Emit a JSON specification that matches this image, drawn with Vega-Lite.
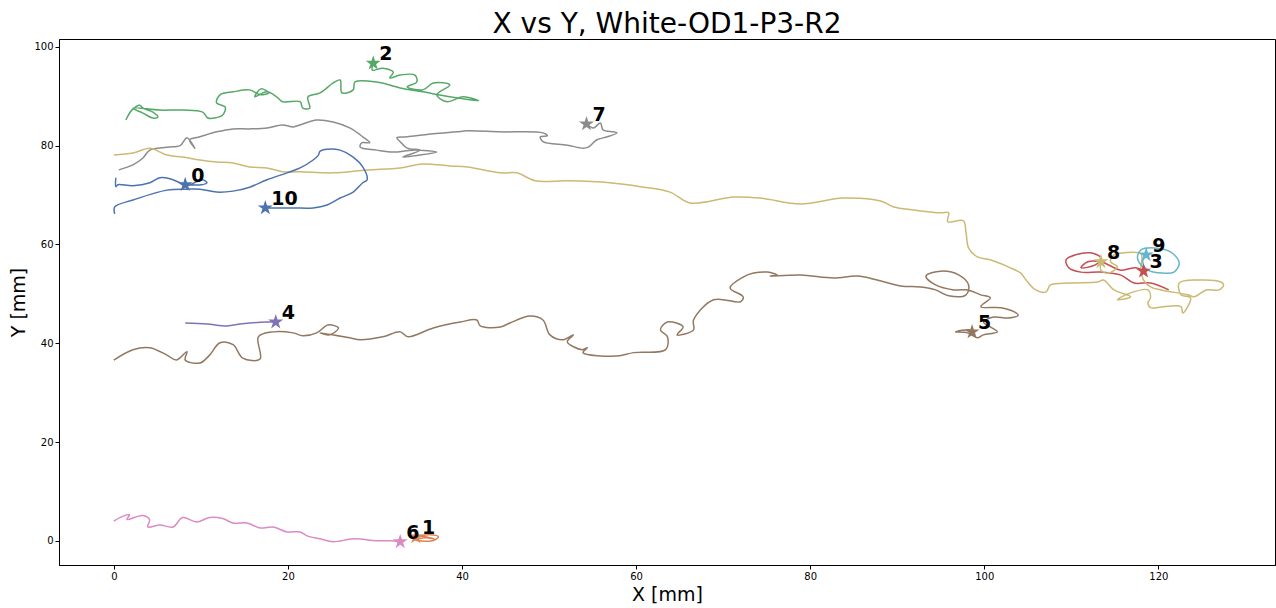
{
  "$schema": "https://vega.github.io/schema/vega-lite/v6.json",
  "autosize": {"type": "none"},
  "padding": {"left": 59, "top": 39, "right": 1, "bottom": 43},
  "width": 1216,
  "height": 526,
  "title": {"text": "X vs Y, White-OD1-P3-R2", "fontSize": 28, "font": "DejaVu Sans", "fontWeight": "normal", "color": "black", "anchor": "middle", "offset": 0},
  "config": {
    "view": {"stroke": "black", "strokeWidth": 1},
    "axis": {"grid": false, "domainColor": "black", "tickColor": "black", "labelColor": "black", "labelFont": "DejaVu Sans", "labelFontSize": 10, "titleFont": "DejaVu Sans", "titleFontSize": 19, "titleFontWeight": "normal", "titleColor": "black", "tickSize": 4}
  },
  "datasets": {
    "tracks": [
      {"id": "0", "x": 0.23, "y": 73.5}, {"id": "0", "x": 0.23, "y": 71.7}, {"id": "0", "x": 0.46, "y": 72.1}, {"id": "0", "x": 2.19, "y": 71.9}, {"id": "0", "x": 4.14, "y": 72.5}, {"id": "0", "x": 5.29, "y": 73.5}, {"id": "0", "x": 6.44, "y": 73.3}, {"id": "0", "x": 7.59, "y": 72.5}, {"id": "0", "x": 8.4, "y": 71.9}, {"id": "0", "x": 9.5, "y": 72.7}, {"id": "0", "x": 10.2, "y": 73.1}, {"id": "0", "x": 10.7, "y": 72.5}, {"id": "0", "x": 10.1, "y": 72.1}, {"id": "0", "x": 8.2, "y": 72.1},
      {"id": "1", "x": 34.4, "y": 0.4}, {"id": "1", "x": 35.2, "y": 1.0}, {"id": "1", "x": 36.3, "y": 1.2}, {"id": "1", "x": 37.3, "y": 0.8}, {"id": "1", "x": 36.6, "y": 0.0}, {"id": "1", "x": 35.2, "y": 0.0}, {"id": "1", "x": 34.5, "y": 0.2}, {"id": "1", "x": 35.8, "y": 0.6}, {"id": "1", "x": 36.8, "y": 0.4}, {"id": "1", "x": 35.5, "y": 0.9}, {"id": "1", "x": 34.7, "y": 0.8},
      {"id": "2", "x": 1.38, "y": 85.2}, {"id": "2", "x": 2.07, "y": 87.2}, {"id": "2", "x": 2.99, "y": 88.2}, {"id": "2", "x": 3.34, "y": 87.6}, {"id": "2", "x": 4.49, "y": 86.8}, {"id": "2", "x": 5.06, "y": 85.8}, {"id": "2", "x": 4.49, "y": 85.6}, {"id": "2", "x": 3.34, "y": 86.6}, {"id": "2", "x": 2.19, "y": 87.6}, {"id": "2", "x": 5.29, "y": 87.2}, {"id": "2", "x": 7.94, "y": 87.2}, {"id": "2", "x": 10.2, "y": 86.8}, {"id": "2", "x": 10.8, "y": 85.6}, {"id": "2", "x": 11.6, "y": 85.6}, {"id": "2", "x": 12.5, "y": 86.2}, {"id": "2", "x": 12.8, "y": 87.8}, {"id": "2", "x": 11.8, "y": 88.7}, {"id": "2", "x": 12.2, "y": 90.3}, {"id": "2", "x": 13.7, "y": 90.9}, {"id": "2", "x": 15.6, "y": 91.3}, {"id": "2", "x": 16.8, "y": 90.3}, {"id": "2", "x": 17.8, "y": 90.7}, {"id": "2", "x": 16.9, "y": 91.5}, {"id": "2", "x": 16.2, "y": 89.9}, {"id": "2", "x": 17.6, "y": 90.9}, {"id": "2", "x": 18.7, "y": 89.9}, {"id": "2", "x": 19.4, "y": 88.9}, {"id": "2", "x": 21.4, "y": 88.9}, {"id": "2", "x": 21.7, "y": 87.6}, {"id": "2", "x": 22.5, "y": 87.6}, {"id": "2", "x": 22.3, "y": 89.9}, {"id": "2", "x": 23.7, "y": 90.7}, {"id": "2", "x": 25.2, "y": 92.7}, {"id": "2", "x": 26.0, "y": 93.3}, {"id": "2", "x": 26.2, "y": 90.7}, {"id": "2", "x": 27.5, "y": 91.3}, {"id": "2", "x": 27.7, "y": 92.9}, {"id": "2", "x": 30.2, "y": 92.9}, {"id": "2", "x": 32.9, "y": 91.7}, {"id": "2", "x": 35.5, "y": 90.9}, {"id": "2", "x": 38.6, "y": 89.9}, {"id": "2", "x": 41.9, "y": 89.1}, {"id": "2", "x": 40.1, "y": 89.9}, {"id": "2", "x": 38.3, "y": 88.9}, {"id": "2", "x": 37.1, "y": 90.3}, {"id": "2", "x": 38.6, "y": 92.3}, {"id": "2", "x": 36.7, "y": 92.7}, {"id": "2", "x": 35.5, "y": 91.3}, {"id": "2", "x": 33.7, "y": 91.9}, {"id": "2", "x": 34.8, "y": 92.9}, {"id": "2", "x": 34.6, "y": 94.3}, {"id": "2", "x": 32.9, "y": 94.3}, {"id": "2", "x": 31.7, "y": 93.7}, {"id": "2", "x": 32.1, "y": 94.9}, {"id": "2", "x": 30.9, "y": 95.7}, {"id": "2", "x": 29.7, "y": 95.3}, {"id": "2", "x": 29.8, "y": 96.7},
      {"id": "3", "x": 121.2, "y": 50.8}, {"id": "3", "x": 119.1, "y": 52.2}, {"id": "3", "x": 117.2, "y": 52.2}, {"id": "3", "x": 115.7, "y": 53.8}, {"id": "3", "x": 113.4, "y": 54.4}, {"id": "3", "x": 111.1, "y": 54.4}, {"id": "3", "x": 109.7, "y": 55.3}, {"id": "3", "x": 109.4, "y": 56.9}, {"id": "3", "x": 110.5, "y": 57.9}, {"id": "3", "x": 112.2, "y": 58.3}, {"id": "3", "x": 113.4, "y": 57.3}, {"id": "3", "x": 112.8, "y": 55.9}, {"id": "3", "x": 111.1, "y": 55.3}, {"id": "3", "x": 111.9, "y": 56.5}, {"id": "3", "x": 113.4, "y": 56.5}, {"id": "3", "x": 115.7, "y": 54.8}, {"id": "3", "x": 117.4, "y": 55.3}, {"id": "3", "x": 118.3, "y": 54.6},
      {"id": "4", "x": 8.2, "y": 44.1}, {"id": "4", "x": 10.7, "y": 43.9}, {"id": "4", "x": 13.0, "y": 43.5}, {"id": "4", "x": 14.5, "y": 43.9}, {"id": "4", "x": 15.6, "y": 44.1}, {"id": "4", "x": 17.6, "y": 44.3}, {"id": "4", "x": 18.6, "y": 44.3},
      {"id": "5", "x": 0.0, "y": 36.6}, {"id": "5", "x": 2.19, "y": 38.7}, {"id": "5", "x": 4.14, "y": 39.1}, {"id": "5", "x": 6.1, "y": 37.6}, {"id": "5", "x": 7.2, "y": 36.6}, {"id": "5", "x": 8.4, "y": 38.3}, {"id": "5", "x": 8.2, "y": 36.6}, {"id": "5", "x": 9.9, "y": 36.0}, {"id": "5", "x": 11.0, "y": 37.6}, {"id": "5", "x": 12.2, "y": 40.1}, {"id": "5", "x": 13.7, "y": 39.7}, {"id": "5", "x": 14.8, "y": 37.0}, {"id": "5", "x": 16.8, "y": 36.8}, {"id": "5", "x": 16.6, "y": 41.3}, {"id": "5", "x": 18.3, "y": 42.3}, {"id": "5", "x": 20.6, "y": 42.1}, {"id": "5", "x": 21.7, "y": 41.5}, {"id": "5", "x": 23.3, "y": 42.1}, {"id": "5", "x": 24.6, "y": 43.7}, {"id": "5", "x": 25.8, "y": 43.1}, {"id": "5", "x": 24.8, "y": 41.7}, {"id": "5", "x": 23.7, "y": 42.1}, {"id": "5", "x": 27.1, "y": 41.1}, {"id": "5", "x": 28.3, "y": 40.7}, {"id": "5", "x": 30.9, "y": 41.3}, {"id": "5", "x": 32.9, "y": 42.3}, {"id": "5", "x": 33.8, "y": 41.3}, {"id": "5", "x": 36.7, "y": 43.1}, {"id": "5", "x": 39.8, "y": 44.3}, {"id": "5", "x": 41.7, "y": 44.7}, {"id": "5", "x": 42.1, "y": 43.5}, {"id": "5", "x": 44.4, "y": 43.3}, {"id": "5", "x": 45.5, "y": 44.1}, {"id": "5", "x": 47.8, "y": 45.5}, {"id": "5", "x": 49.3, "y": 44.7}, {"id": "5", "x": 50.1, "y": 41.7}, {"id": "5", "x": 51.6, "y": 40.7}, {"id": "5", "x": 52.8, "y": 41.7}, {"id": "5", "x": 52.1, "y": 40.3}, {"id": "5", "x": 53.8, "y": 38.7}, {"id": "5", "x": 54.4, "y": 39.1}, {"id": "5", "x": 53.9, "y": 38.1}, {"id": "5", "x": 57.8, "y": 37.4}, {"id": "5", "x": 59.7, "y": 38.1}, {"id": "5", "x": 63.4, "y": 38.7}, {"id": "5", "x": 63.6, "y": 41.3}, {"id": "5", "x": 62.8, "y": 42.7}, {"id": "5", "x": 63.6, "y": 44.3}, {"id": "5", "x": 65.4, "y": 43.3}, {"id": "5", "x": 64.7, "y": 41.7}, {"id": "5", "x": 66.6, "y": 42.7}, {"id": "5", "x": 66.6, "y": 44.7}, {"id": "5", "x": 68.9, "y": 48.8}, {"id": "5", "x": 72.0, "y": 48.4}, {"id": "5", "x": 72.3, "y": 49.4}, {"id": "5", "x": 70.8, "y": 51.2}, {"id": "5", "x": 72.3, "y": 53.4}, {"id": "5", "x": 73.5, "y": 54.2}, {"id": "5", "x": 75.1, "y": 54.4}, {"id": "5", "x": 76.2, "y": 53.8}, {"id": "5", "x": 75.4, "y": 53.6}, {"id": "5", "x": 78.9, "y": 53.8}, {"id": "5", "x": 82.7, "y": 53.2}, {"id": "5", "x": 85.4, "y": 53.6}, {"id": "5", "x": 87.7, "y": 52.8}, {"id": "5", "x": 90.4, "y": 51.6}, {"id": "5", "x": 92.7, "y": 51.4}, {"id": "5", "x": 94.4, "y": 50.8}, {"id": "5", "x": 95.9, "y": 49.6}, {"id": "5", "x": 97.9, "y": 49.8}, {"id": "5", "x": 98.2, "y": 51.8}, {"id": "5", "x": 97.1, "y": 53.8}, {"id": "5", "x": 95.0, "y": 54.6}, {"id": "5", "x": 93.3, "y": 53.6}, {"id": "5", "x": 94.4, "y": 51.8}, {"id": "5", "x": 96.5, "y": 50.8}, {"id": "5", "x": 98.1, "y": 50.8}, {"id": "5", "x": 99.6, "y": 49.8}, {"id": "5", "x": 100.7, "y": 49.2}, {"id": "5", "x": 99.6, "y": 47.4}, {"id": "5", "x": 101.9, "y": 47.2}, {"id": "5", "x": 103.4, "y": 46.4}, {"id": "5", "x": 103.9, "y": 45.7}, {"id": "5", "x": 102.7, "y": 45.1}, {"id": "5", "x": 101.1, "y": 45.3}, {"id": "5", "x": 99.9, "y": 44.3}, {"id": "5", "x": 100.7, "y": 43.3}, {"id": "5", "x": 101.5, "y": 42.3}, {"id": "5", "x": 99.9, "y": 41.7}, {"id": "5", "x": 99.2, "y": 41.1}, {"id": "5", "x": 98.1, "y": 42.1}, {"id": "5", "x": 96.7, "y": 42.3}, {"id": "5", "x": 98.4, "y": 42.7}, {"id": "5", "x": 98.6, "y": 42.3},
      {"id": "6", "x": 0.0, "y": 4.0}, {"id": "6", "x": 0.7, "y": 4.7}, {"id": "6", "x": 1.8, "y": 5.3}, {"id": "6", "x": 1.5, "y": 4.3}, {"id": "6", "x": 3.3, "y": 5.1}, {"id": "6", "x": 4.1, "y": 4.3}, {"id": "6", "x": 3.9, "y": 2.8}, {"id": "6", "x": 5.3, "y": 3.2}, {"id": "6", "x": 6.8, "y": 2.8}, {"id": "6", "x": 7.9, "y": 4.7}, {"id": "6", "x": 9.5, "y": 3.8}, {"id": "6", "x": 11.0, "y": 4.7}, {"id": "6", "x": 12.5, "y": 4.5}, {"id": "6", "x": 13.7, "y": 3.6}, {"id": "6", "x": 15.3, "y": 3.6}, {"id": "6", "x": 16.8, "y": 2.6}, {"id": "6", "x": 18.3, "y": 2.8}, {"id": "6", "x": 19.9, "y": 1.8}, {"id": "6", "x": 21.4, "y": 1.8}, {"id": "6", "x": 22.2, "y": 1.0}, {"id": "6", "x": 23.7, "y": 0.4}, {"id": "6", "x": 25.2, "y": -0.2}, {"id": "6", "x": 27.5, "y": 0.4}, {"id": "6", "x": 30.2, "y": 0.0}, {"id": "6", "x": 31.7, "y": 0.0}, {"id": "6", "x": 32.9, "y": -0.2},
      {"id": "7", "x": 0.58, "y": 75.1}, {"id": "7", "x": 2.19, "y": 76.1}, {"id": "7", "x": 3.34, "y": 77.5}, {"id": "7", "x": 4.14, "y": 79.1}, {"id": "7", "x": 6.1, "y": 79.7}, {"id": "7", "x": 7.6, "y": 80.0}, {"id": "7", "x": 8.4, "y": 81.6}, {"id": "7", "x": 9.3, "y": 79.5}, {"id": "7", "x": 8.7, "y": 81.2}, {"id": "7", "x": 9.9, "y": 81.8}, {"id": "7", "x": 11.8, "y": 82.8}, {"id": "7", "x": 13.7, "y": 83.4}, {"id": "7", "x": 15.6, "y": 83.4}, {"id": "7", "x": 17.6, "y": 83.6}, {"id": "7", "x": 19.4, "y": 84.2}, {"id": "7", "x": 20.6, "y": 83.8}, {"id": "7", "x": 21.4, "y": 84.2}, {"id": "7", "x": 23.3, "y": 85.2}, {"id": "7", "x": 25.2, "y": 84.8}, {"id": "7", "x": 27.1, "y": 83.6}, {"id": "7", "x": 28.6, "y": 81.8}, {"id": "7", "x": 29.4, "y": 80.6}, {"id": "7", "x": 28.5, "y": 80.6}, {"id": "7", "x": 28.3, "y": 79.7}, {"id": "7", "x": 30.2, "y": 79.1}, {"id": "7", "x": 32.1, "y": 78.7}, {"id": "7", "x": 34.4, "y": 79.1}, {"id": "7", "x": 37.1, "y": 78.7}, {"id": "7", "x": 35.2, "y": 78.1}, {"id": "7", "x": 33.2, "y": 77.7}, {"id": "7", "x": 35.2, "y": 79.1}, {"id": "7", "x": 33.7, "y": 79.5}, {"id": "7", "x": 32.9, "y": 80.8}, {"id": "7", "x": 32.5, "y": 81.6}, {"id": "7", "x": 33.7, "y": 81.8}, {"id": "7", "x": 36.7, "y": 82.4}, {"id": "7", "x": 39.4, "y": 82.8}, {"id": "7", "x": 40.6, "y": 83.0}, {"id": "7", "x": 44.4, "y": 82.8}, {"id": "7", "x": 49.3, "y": 82.6}, {"id": "7", "x": 49.8, "y": 82.0}, {"id": "7", "x": 49.0, "y": 81.8}, {"id": "7", "x": 49.3, "y": 80.8}, {"id": "7", "x": 52.1, "y": 80.1}, {"id": "7", "x": 53.9, "y": 79.5}, {"id": "7", "x": 54.5, "y": 79.7}, {"id": "7", "x": 55.5, "y": 81.2}, {"id": "7", "x": 56.7, "y": 81.8}, {"id": "7", "x": 57.8, "y": 82.6}, {"id": "7", "x": 57.4, "y": 82.8}, {"id": "7", "x": 56.2, "y": 83.2}, {"id": "7", "x": 55.9, "y": 84.6}, {"id": "7", "x": 55.1, "y": 83.6}, {"id": "7", "x": 54.3, "y": 84.4},
      {"id": "8", "x": 0.0, "y": 78.1}, {"id": "8", "x": 2.19, "y": 78.5}, {"id": "8", "x": 4.14, "y": 79.5}, {"id": "8", "x": 6.1, "y": 78.1}, {"id": "8", "x": 7.9, "y": 77.7}, {"id": "8", "x": 9.9, "y": 77.1}, {"id": "8", "x": 11.8, "y": 76.7}, {"id": "8", "x": 13.7, "y": 76.5}, {"id": "8", "x": 15.6, "y": 75.7}, {"id": "8", "x": 17.6, "y": 75.5}, {"id": "8", "x": 19.4, "y": 74.7}, {"id": "8", "x": 21.4, "y": 74.7}, {"id": "8", "x": 25.2, "y": 74.5}, {"id": "8", "x": 29.1, "y": 75.1}, {"id": "8", "x": 32.9, "y": 75.5}, {"id": "8", "x": 35.5, "y": 76.3}, {"id": "8", "x": 38.6, "y": 75.9}, {"id": "8", "x": 40.6, "y": 75.7}, {"id": "8", "x": 44.4, "y": 74.5}, {"id": "8", "x": 46.3, "y": 74.5}, {"id": "8", "x": 48.4, "y": 72.9}, {"id": "8", "x": 52.1, "y": 72.9}, {"id": "8", "x": 57.0, "y": 72.5}, {"id": "8", "x": 60.5, "y": 71.7}, {"id": "8", "x": 63.9, "y": 70.6}, {"id": "8", "x": 66.2, "y": 68.4}, {"id": "8", "x": 71.2, "y": 69.6}, {"id": "8", "x": 74.3, "y": 69.4}, {"id": "8", "x": 78.9, "y": 68.2}, {"id": "8", "x": 83.8, "y": 69.4}, {"id": "8", "x": 88.1, "y": 68.8}, {"id": "8", "x": 89.6, "y": 67.6}, {"id": "8", "x": 91.9, "y": 67.0}, {"id": "8", "x": 95.0, "y": 66.4}, {"id": "8", "x": 95.9, "y": 66.4}, {"id": "8", "x": 95.8, "y": 64.6}, {"id": "8", "x": 97.6, "y": 64.8}, {"id": "8", "x": 97.9, "y": 62.5}, {"id": "8", "x": 98.2, "y": 59.3}, {"id": "8", "x": 99.2, "y": 57.5}, {"id": "8", "x": 100.7, "y": 56.9}, {"id": "8", "x": 102.7, "y": 55.5}, {"id": "8", "x": 104.2, "y": 54.2}, {"id": "8", "x": 104.8, "y": 52.8}, {"id": "8", "x": 105.9, "y": 50.8}, {"id": "8", "x": 107.1, "y": 50.4}, {"id": "8", "x": 107.6, "y": 51.8}, {"id": "8", "x": 109.9, "y": 52.2}, {"id": "8", "x": 113.0, "y": 52.4}, {"id": "8", "x": 113.7, "y": 52.8}, {"id": "8", "x": 114.9, "y": 50.8}, {"id": "8", "x": 116.8, "y": 49.4}, {"id": "8", "x": 115.3, "y": 48.8}, {"id": "8", "x": 116.8, "y": 50.2}, {"id": "8", "x": 118.8, "y": 50.8}, {"id": "8", "x": 119.1, "y": 49.2}, {"id": "8", "x": 118.8, "y": 48.2}, {"id": "8", "x": 119.1, "y": 47.2}, {"id": "8", "x": 120.6, "y": 47.4}, {"id": "8", "x": 122.6, "y": 47.4}, {"id": "8", "x": 122.8, "y": 46.1}, {"id": "8", "x": 123.7, "y": 49.2}, {"id": "8", "x": 122.6, "y": 49.8}, {"id": "8", "x": 122.4, "y": 52.2}, {"id": "8", "x": 124.5, "y": 52.8}, {"id": "8", "x": 127.2, "y": 52.4}, {"id": "8", "x": 127.5, "y": 51.8}, {"id": "8", "x": 127.0, "y": 50.8}, {"id": "8", "x": 125.5, "y": 50.8}, {"id": "8", "x": 124.1, "y": 49.4}, {"id": "8", "x": 123.4, "y": 49.8}, {"id": "8", "x": 120.3, "y": 50.8}, {"id": "8", "x": 119.1, "y": 51.4}, {"id": "8", "x": 118.3, "y": 52.8}, {"id": "8", "x": 118.0, "y": 54.8}, {"id": "8", "x": 118.0, "y": 58.1}, {"id": "8", "x": 116.0, "y": 58.3}, {"id": "8", "x": 114.9, "y": 57.9}, {"id": "8", "x": 114.5, "y": 56.5}, {"id": "8", "x": 115.3, "y": 55.5}, {"id": "8", "x": 114.2, "y": 54.2}, {"id": "8", "x": 113.4, "y": 54.8}, {"id": "8", "x": 113.4, "y": 56.5},
      {"id": "9", "x": 118.3, "y": 55.3}, {"id": "9", "x": 117.8, "y": 56.3}, {"id": "9", "x": 117.6, "y": 57.5}, {"id": "9", "x": 118.0, "y": 58.9}, {"id": "9", "x": 119.5, "y": 59.3}, {"id": "9", "x": 121.4, "y": 58.5}, {"id": "9", "x": 122.4, "y": 56.3}, {"id": "9", "x": 121.8, "y": 54.4}, {"id": "9", "x": 120.5, "y": 54.2}, {"id": "9", "x": 118.8, "y": 54.8}, {"id": "9", "x": 118.2, "y": 56.5}, {"id": "9", "x": 118.6, "y": 57.9},
      {"id": "10", "x": 0.1, "y": 66.2}, {"id": "10", "x": 0.1, "y": 67.6}, {"id": "10", "x": 2.2, "y": 69.0}, {"id": "10", "x": 6.1, "y": 71.0}, {"id": "10", "x": 8.4, "y": 71.2}, {"id": "10", "x": 9.9, "y": 71.2}, {"id": "10", "x": 11.8, "y": 70.6}, {"id": "10", "x": 13.7, "y": 70.8}, {"id": "10", "x": 15.6, "y": 71.6}, {"id": "10", "x": 17.6, "y": 73.1}, {"id": "10", "x": 19.9, "y": 74.5}, {"id": "10", "x": 21.4, "y": 75.5}, {"id": "10", "x": 22.9, "y": 77.1}, {"id": "10", "x": 23.5, "y": 78.1}, {"id": "10", "x": 23.7, "y": 78.9}, {"id": "10", "x": 24.5, "y": 79.3}, {"id": "10", "x": 26.0, "y": 79.1}, {"id": "10", "x": 27.5, "y": 77.7}, {"id": "10", "x": 28.6, "y": 75.7}, {"id": "10", "x": 29.1, "y": 73.1}, {"id": "10", "x": 28.6, "y": 72.5}, {"id": "10", "x": 27.5, "y": 70.6}, {"id": "10", "x": 26.0, "y": 69.4}, {"id": "10", "x": 24.5, "y": 68.0}, {"id": "10", "x": 22.9, "y": 67.4}, {"id": "10", "x": 20.6, "y": 67.4}, {"id": "10", "x": 17.4, "y": 67.4}
    ],
    "ends": [
      {"id": "0", "x": 8.2, "y": 72.1},
      {"id": "1", "x": 34.7, "y": 0.8},
      {"id": "2", "x": 29.8, "y": 96.7},
      {"id": "3", "x": 118.3, "y": 54.6},
      {"id": "4", "x": 18.6, "y": 44.3},
      {"id": "5", "x": 98.6, "y": 42.3},
      {"id": "6", "x": 32.9, "y": -0.2},
      {"id": "7", "x": 54.3, "y": 84.4},
      {"id": "8", "x": 113.4, "y": 56.5},
      {"id": "9", "x": 118.6, "y": 57.9},
      {"id": "10", "x": 17.4, "y": 67.4}
    ]
  },
  "layer": [
    {
      "data": {"name": "tracks"},
      "mark": {"type": "line", "strokeWidth": 1.5, "interpolate": "catmull-rom"},
      "encoding": {
        "x": {"field": "x", "type": "quantitative", "title": "X [mm]", "scale": {"domain": [-6.3, 133.4], "nice": false, "zero": false}, "axis": {"values": [0, 20, 40, 60, 80, 100, 120], "titlePadding": 4}},
        "y": {"field": "y", "type": "quantitative", "title": "Y [mm]", "scale": {"domain": [-4.9, 101.6], "nice": false, "zero": false}, "axis": {"values": [0, 20, 40, 60, 80, 100], "titlePadding": 5}},
        "color": {"field": "id", "type": "nominal", "legend": null, "scale": {"domain": ["0", "1", "2", "3", "4", "5", "6", "7", "8", "9", "10"], "range": ["#4C72B0", "#DD8452", "#55A868", "#C44E52", "#8172B3", "#937860", "#DA8BC3", "#8C8C8C", "#CCB974", "#64B5CD", "#4C72B0"]}},
        "order": {"value": null}
      }
    },
    {
      "data": {"name": "ends"},
      "mark": {"type": "point", "shape": "M0,-1L0.2245,-0.309L0.951,-0.309L0.363,0.118L0.588,0.809L0,0.382L-0.588,0.809L-0.363,0.118L-0.951,-0.309L-0.2245,-0.309Z", "filled": true, "size": 250, "opacity": 1},
      "encoding": {
        "x": {"field": "x", "type": "quantitative"},
        "y": {"field": "y", "type": "quantitative"},
        "color": {"field": "id", "type": "nominal", "legend": null}
      }
    },
    {
      "data": {"name": "ends"},
      "mark": {"type": "text", "align": "left", "baseline": "middle", "dx": 6, "dy": -9, "fontSize": 19, "fontWeight": "bold", "font": "DejaVu Sans", "color": "black"},
      "encoding": {
        "x": {"field": "x", "type": "quantitative"},
        "y": {"field": "y", "type": "quantitative"},
        "text": {"field": "id", "type": "nominal"}
      }
    }
  ]
}
